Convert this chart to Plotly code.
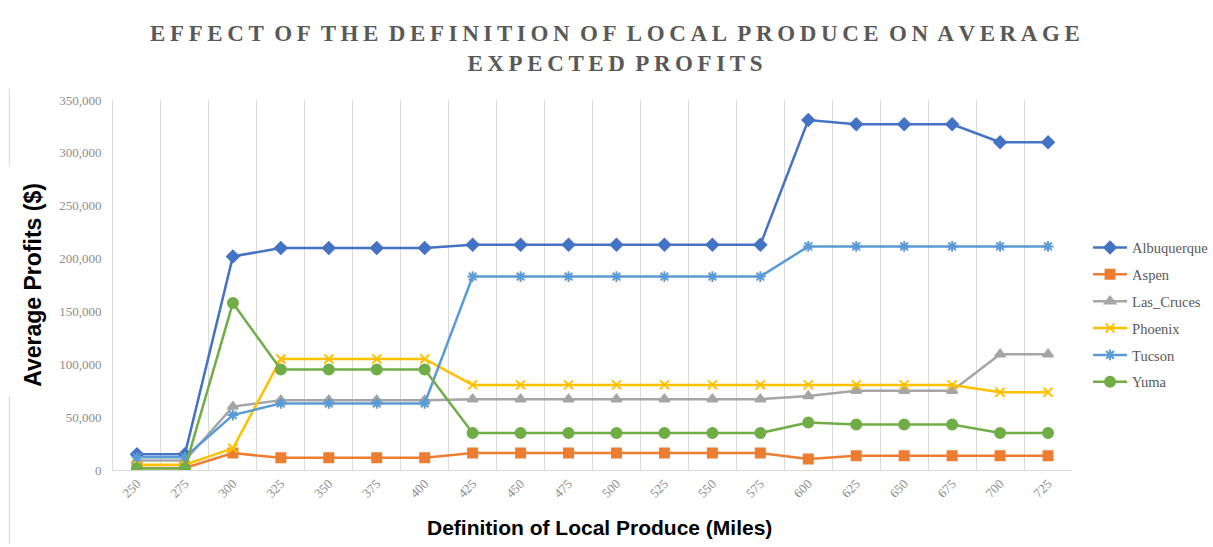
import plotly.graph_objects as go

miles = ["250", "275", "300", "325", "350", "375", "400", "425", "450", "475",
         "500", "525", "550", "575", "600", "625", "650", "675", "700", "725"]

albuquerque = [15000, 15000, 202000, 210000, 210000, 210000, 210000, 213000, 213000, 213000,
               213000, 213000, 213000, 213000, 331000, 327000, 327000, 327000, 310000, 310000]
aspen = [2000, 2000, 16000, 11500, 11500, 11500, 11500, 16000, 16000, 16000,
         16000, 16000, 16000, 16000, 10500, 13500, 13500, 13500, 13500, 13500]
las_cruces = [9000, 9000, 60000, 66000, 66000, 66000, 66000, 67000, 67000, 67000,
              67000, 67000, 67000, 67000, 70000, 75000, 75000, 75000, 109500, 109500]
phoenix = [5000, 5000, 20500, 105000, 105000, 105000, 105000, 80500, 80500, 80500,
           80500, 80500, 80500, 80500, 80500, 80500, 80500, 80500, 73500, 73500]
tucson = [12000, 12000, 52000, 63000, 63000, 63000, 63000, 183000, 183000, 183000,
          183000, 183000, 183000, 183000, 211500, 211500, 211500, 211500, 211500, 211500]
yuma = [1500, 1500, 158000, 95000, 95000, 95000, 95000, 35000, 35000, 35000,
        35000, 35000, 35000, 35000, 45000, 43000, 43000, 43000, 35000, 35000]

series = [
    ("Albuquerque", albuquerque, "#4472C4", "diamond", 9),
    ("Aspen", aspen, "#ED7D31", "square", 9),
    ("Las_Cruces", las_cruces, "#A5A5A5", "triangle-up", 9),
    ("Phoenix", phoenix, "#FFC000", "x-thin-open", 9),
    ("Tucson", tucson, "#5B9BD5", "asterisk-open", 9),
    ("Yuma", yuma, "#70AD47", "circle", 10),
]

fig = go.Figure()
for name, vals, color, sym, size in series:
    fig.add_trace(go.Scatter(
        x=miles, y=vals, name=name, mode="lines+markers", legendgroup=name,
        line=dict(color=color, width=2.5),
        marker=dict(symbol=sym, size=size, color=color, line=dict(color=color, width=2)),
    ))


def spaced(s):
    out = []
    for w in s.split(" "):
        out.append("\u2009".join(w))
    return "\u2009 ".join(out)


title_text = spaced("EFFECT OF THE DEFINITION OF LOCAL PRODUCE ON AVERAGE") + "<br>" + spaced("EXPECTED PROFITS")

fig.update_layout(
    width=1213, height=547,
    margin=dict(l=113, r=141, t=100, b=77, autoexpand=False),
    paper_bgcolor="white", plot_bgcolor="white",
    title=dict(text=title_text, x=0.507, xanchor="center", y=0.925, yanchor="top",
               font=dict(family="Liberation Serif", size=23, color="#595959", weight="bold")),
    legend=dict(xref="container", yref="container", x=0.897, y=0.424,
                xanchor="left", yanchor="middle",
                font=dict(family="Liberation Serif", size=14.5, color="#595959"),
                tracegroupgap=5, itemwidth=34),
    showlegend=True,
)

fig.update_xaxes(
    type="category", tickson="boundaries", range=[-0.5, 19.5],
    showgrid=True, gridcolor="#D9D9D9", gridwidth=1,
    showline=True, linecolor="#D9D9D9", linewidth=1,
    ticks="", tickangle=-45,
    tickfont=dict(family="Liberation Serif", size=13, color="#8C8C8C"),
)
fig.update_yaxes(
    range=[0, 350000], dtick=50000, tickformat=",",
    showgrid=False, zeroline=False,
    showline=True, linecolor="#D9D9D9", linewidth=1,
    ticks="", ticklabelstandoff=8,
    tickfont=dict(family="Liberation Serif", size=13, color="#8C8C8C"),
    title=dict(text="Average Profits ($)",
               font=dict(family="Liberation Sans", size=23, color="black", weight="bold"),
               standoff=11),
)

fig.add_annotation(text="Definition of Local Produce (Miles)", xref="paper", yref="paper",
                   x=0.507, y=-0.155, xanchor="center", yanchor="middle", showarrow=False,
                   font=dict(family="Liberation Sans", size=21, color="black", weight="bold"))

fig.add_shape(type="line", xref="paper", yref="paper", x0=-0.108, x1=-0.108,
              y0=1.03, y1=0.82, line=dict(color="#D9D9D9", width=1))
fig.add_shape(type="line", xref="paper", yref="paper", x0=-0.108, x1=-0.108,
              y0=0.20, y1=-0.2, line=dict(color="#D9D9D9", width=1))

fig.write_html("out.html")
